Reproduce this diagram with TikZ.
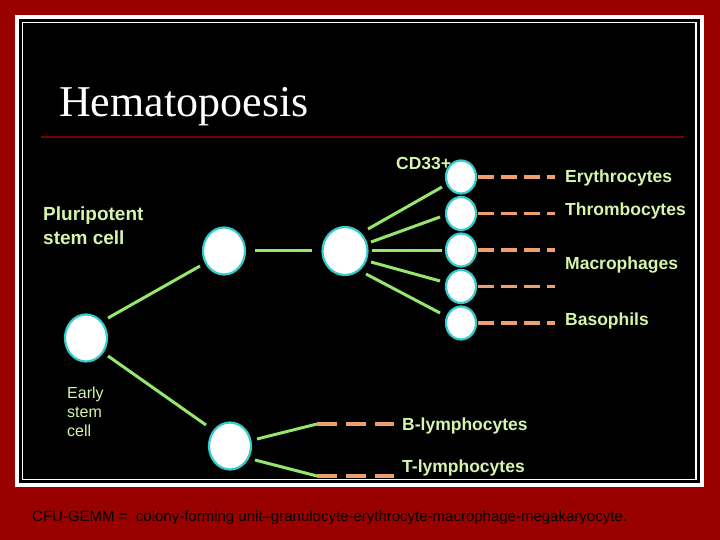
\documentclass[tikz,border=0pt]{standalone}
\usepackage{fontspec}
\setmainfont{Liberation Sans}
\newfontfamily\titlefont{Liberation Serif}
\usetikzlibrary{shapes.geometric,calc}
\definecolor{bgred}{RGB}{153,0,0}
\definecolor{ulred}{RGB}{120,0,0}
\definecolor{lblc}{RGB}{214,245,170}
\definecolor{linkc}{RGB}{150,230,110}
\definecolor{orangec}{RGB}{235,160,110}
\definecolor{cellc}{RGB}{51,204,204}
\begin{document}
\begin{tikzpicture}[x=1pt,y=-1pt,
  cell/.style={ellipse, draw=cellc, line width=2.2pt, fill=white, inner sep=0pt, minimum width=42pt, minimum height=47pt},
  smallcell/.style={cell, minimum width=30pt, minimum height=33pt},
  lbl/.style={text=lblc, font=\bfseries\fontsize{17.5}{20}\selectfont, anchor=base west, inner sep=0pt},
  plainlbl/.style={text=lblc, font=\fontsize{16}{19}\selectfont, anchor=base west, inner sep=0pt},
  link/.style={draw=linkc, line width=3pt},
  odash/.style={draw=orangec, line width=3.5pt, dash pattern=on 16pt off 7pt},
  odashlong/.style={draw=orangec, line width=3.5pt, dash pattern=on 20pt off 9pt}]
\useasboundingbox (0,0) rectangle (720,540);
% frame
\fill[bgred] (0,0) rectangle (720,540);
\fill[white] (15,15) rectangle (704,487);
\fill[black] (19,19) rectangle (700,483);
\draw[white, line width=1.5pt] (22.5,22.5) rectangle (696,479.5);
% title
\node[anchor=base west, text=white, inner sep=0pt, font=\titlefont\fontsize{44}{50}\selectfont] (title) at (59,117) {Hematopoesis};
\coordinate (ul1) at (41,137);
\coordinate (ul2) at (684,137);
\draw[ulred, line width=2pt] (ul1) -- (ul2);
% cells
\node[cell] (early) at (86,338) {};
\node[cell] (pluri) at (224,251) {};
\node[cell, minimum width=45pt, minimum height=48pt] (cd) at (345,251) {};
\node[cell] (lymph) at (230,446) {};
\node[smallcell] (e1) at (461,177) {};
\node[smallcell] (e2) at (461,213.5) {};
\node[smallcell] (e3) at (461,250) {};
\node[smallcell] (e4) at (461,286.5) {};
\node[smallcell] (e5) at (461,323) {};
% green links
\draw[link] ($(early)+(22,-20)$) -- ($(pluri)+(-24,15)$);
\draw[link] ($(pluri)+(31,-1)$) -- ($(cd)+(-33,-1)$);
\draw[link] ($(early)+(22,18)$) -- ($(lymph)+(-24,-21)$);
\draw[link] ($(cd)+(23,-22)$) -- ($(e1)+(-19,10)$);
\draw[link] ($(cd)+(26,-9)$) -- ($(e2)+(-21,3.5)$);
\draw[link] ($(cd)+(27,-1)$) -- ($(e3)+(-19,0)$);
\draw[link] ($(cd)+(26,11)$) -- ($(e4)+(-21,-5.5)$);
\draw[link] ($(cd)+(21,23)$) -- ($(e5)+(-21,-10)$);
\coordinate (bj) at (317,424);
\coordinate (tj) at (317,476);
\draw[link] ($(lymph)+(27,-7)$) -- (bj);
\draw[link] ($(lymph)+(25,14)$) -- (tj);
% orange dashed lines
\coordinate (d1) at (555,177);
\coordinate (d2) at (555,213.5);
\coordinate (d3) at (555,250);
\coordinate (d4) at (555,286.5);
\coordinate (d5) at (555,323);
\coordinate (db) at (394,424);
\coordinate (dt) at (394,476);
\draw[odash] ($(e1.east)+(1,0)$) -- (d1);
\draw[odash] ($(e2.east)+(1,0)$) -- (d2);
\draw[odash] ($(e3.east)+(1,0)$) -- (d3);
\draw[odash] ($(e4.east)+(1,0)$) -- (d4);
\draw[odash] ($(e5.east)+(1,0)$) -- (d5);
\draw[odashlong] (bj) -- (db);
\draw[odashlong] (tj) -- (dt);
% labels
\node[lbl] (cdl) at (396,170) {CD33+};
\node[lbl] (l1) at (565,183) {Erythrocytes};
\node[lbl] (l2) at (565,215) {Thrombocytes};
\node[lbl] (l3) at (565,269) {Macrophages};
\node[lbl] (l4) at (565,325) {Basophils};
\node[lbl, font=\bfseries\fontsize{19}{24}\selectfont, align=left, anchor=north west] (plul) at (43,207) {Pluripotent\\stem cell};
\node[plainlbl] (el1) at (67,398) {Early};
\node[plainlbl] (el2) at (67,417) {stem};
\node[plainlbl] (el3) at (67,436) {cell};
\node[lbl] (bl) at (402,430) {B-lymphocytes};
\node[lbl] (tl) at (402,472) {T-lymphocytes};
% footer
\node[anchor=base west, inner sep=0pt, text=black, font=\fontsize{15}{18}\selectfont] (foot) at (32,521) {CFU-GEMM =\ \ colony-forming unit--granulocyte-erythrocyte-macrophage-megakaryocyte.};
\end{tikzpicture}
\end{document}
